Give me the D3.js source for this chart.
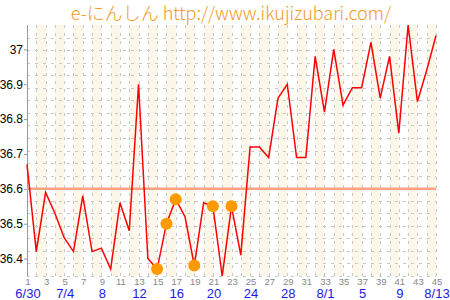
<!DOCTYPE html>
<html>
<head>
<meta charset="utf-8">
<script src="https://cdn.jsdelivr.net/npm/d3@7"></script>
<style>
  body { margin: 0; background: #fff; }
  svg { display: block; }
</style>
</head>
<body>
<div id="chart"></div>
<script>
// day numbers 1..45 (6/30 - 8/13)
const days = d3.range(1, 46);
// basal body temperature per day
const temps = [36.67, 36.42, 36.59, 36.53, 36.46, 36.42, 36.58, 36.42, 36.43, 36.37,
  36.56, 36.48, 36.90, 36.40, 36.37, 36.50, 36.57, 36.52, 36.38, 36.56,
  36.55, 36.35, 36.55, 36.41, 36.72, 36.72, 36.69, 36.86, 36.90, 36.69,
  36.69, 36.98, 36.82, 37.00, 36.84, 36.89, 36.89, 37.02, 36.86, 36.98,
  36.76, 37.07, 36.85, 36.94, 37.04];
// days marked with a dot
const markedDays = [15, 16, 17, 19, 21, 23];
const refTemp = 36.6;
const yTicks = [36.4, 36.5, 36.6, 36.7, 36.8, 36.9, 37];
const dateLabels = ["6/30", "7/4", "8", "12", "16", "20", "24", "28", "8/1", "5", "9", "8/13"];
const dateDays = [1, 5, 9, 13, 17, 21, 25, 29, 33, 37, 41, 45];

const width = 450, height = 300;
const plotTop = 25, plotBottom = 276;

const svg = d3.select("#chart").append("svg")
  .attr("width", width)
  .attr("height", height);

const x = d3.scaleLinear().domain([1, 45]).range([27, 436]);
const y = d3.scaleLinear().domain([36.35, 37.07]).range([plotBottom, plotTop]);
const px = v => Math.round(v) + 0.5; // crisp 1px lines

// beige cells from each even day to the next day
svg.append("g").selectAll("rect")
  .data(days.filter(d => d % 2 === 0))
  .enter().append("rect")
  .attr("x", d => Math.round(x(d)))
  .attr("y", plotTop)
  .attr("width", d => Math.round(x(d + 1)) - Math.round(x(d)))
  .attr("height", plotBottom - plotTop)
  .attr("fill", "#fdf7ea");

// dotted grid
const grid = svg.append("g")
  .attr("stroke", "#c8c8c8")
  .attr("stroke-dasharray", "3,5");
grid.selectAll("line.v")
  .data(days.slice(1))
  .enter().append("line")
  .attr("x1", d => px(x(d))).attr("x2", d => px(x(d)))
  .attr("y1", plotTop).attr("y2", plotBottom);
grid.selectAll("line.h")
  .data(d3.range(0, 20))
  .enter().append("line")
  .attr("x1", x(1)).attr("x2", x(45))
  .attr("y1", k => px(y(36.35 + k * 0.036))).attr("y2", k => px(y(36.35 + k * 0.036)));

// y axis
const yAxis = svg.append("g")
  .attr("transform", `translate(${Math.round(x(1))},0)`)
  .call(d3.axisLeft(y).tickValues(yTicks).tickSize(3).tickFormat(d3.format("")));
yAxis.select(".domain").attr("stroke", "#999").attr("d", `M0.5,${plotTop}V${plotBottom}`);
yAxis.selectAll(".tick line").attr("stroke", "#999");
yAxis.selectAll("text")
  .attr("font-family", "Liberation Sans, Arial, sans-serif")
  .attr("font-size", 12)
  .attr("fill", "#000")
  .attr("x", -4);

// day numbers
svg.append("g").selectAll("text")
  .data(days.filter(d => d % 2 === 1))
  .enter().append("text")
  .attr("x", d => x(d) + 1)
  .attr("y", plotBottom + 9)
  .attr("text-anchor", "middle")
  .attr("font-family", "Liberation Sans, Arial, sans-serif")
  .attr("font-size", 9.5)
  .attr("fill", "#888")
  .text(d => d);

// date labels
svg.append("g").selectAll("text")
  .data(dateDays)
  .enter().append("text")
  .attr("x", d => x(d) + 1)
  .attr("y", 298)
  .attr("text-anchor", "middle")
  .attr("font-family", "Liberation Sans, Arial, sans-serif")
  .attr("font-size", 13)
  .attr("fill", "#1a1ae6")
  .text((d, i) => dateLabels[i]);

// reference line
svg.append("line")
  .attr("x1", x(1)).attr("x2", x(45))
  .attr("y1", y(refTemp)).attr("y2", y(refTemp))
  .attr("stroke", "#ffa280")
  .attr("stroke-width", 2.5);

// temperature line
const line = d3.line()
  .x((d, i) => x(days[i]))
  .y(d => y(d));
svg.append("path")
  .datum(temps)
  .attr("fill", "none")
  .attr("stroke", "#ff0000")
  .attr("stroke-width", 1.5)
  .attr("d", line);

// markers
svg.append("g").selectAll("circle")
  .data(markedDays)
  .enter().append("circle")
  .attr("cx", d => x(d))
  .attr("cy", d => y(temps[d - 1]))
  .attr("r", 6)
  .attr("fill", "#ff9900");

// title
svg.append("text")
  .attr("x", 231)
  .attr("y", 20)
  .attr("text-anchor", "middle")
  .attr("font-family", "Noto Sans CJK JP, sans-serif")
  .attr("font-size", 18)
  .attr("font-weight", 300)
  .attr("fill", "#f29a28")
  .text("e-にんしん http://www.ikujizubari.com/");
</script>
</body>
</html>
